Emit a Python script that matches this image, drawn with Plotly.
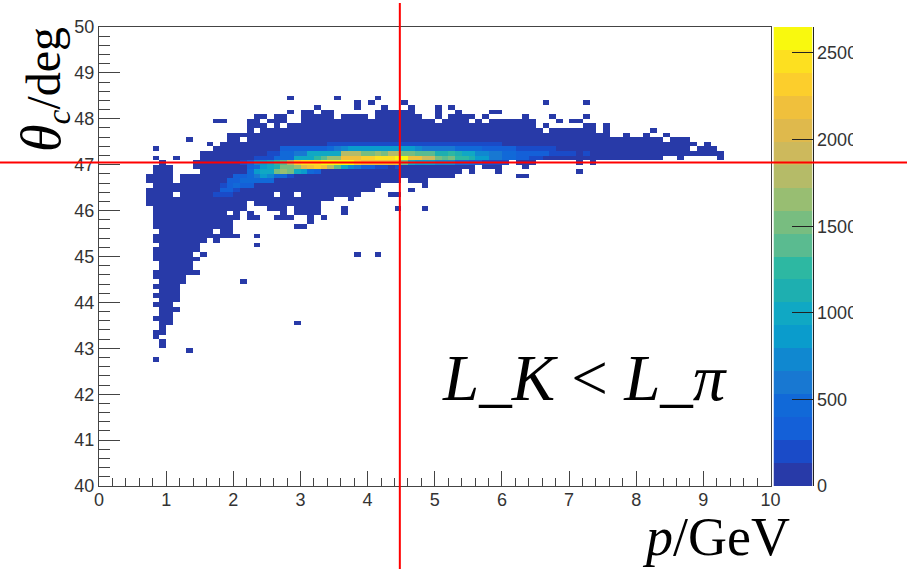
import plotly.graph_objects as go

W, H = 907, 569
P_EDGES = 100
FIRST_COL = 7
BASE_COUNT = 40
Z_MAX = 2650
BAND_COUNT = 20

# (lowest, highest) filled theta bin for every momentum bin, starting at FIRST_COL
COLUMN_LOW = [61,32,33,35,40,44,46,46,53,54,53,54,54,58,60,62,61,61,60,60,59,61,59,59,57,59,62,62,63,63,62,63,64,64,65,66,66,66,67,66,66,65,67,67,67,67,68,69,68,70,69,69,68,71,71,70,69,70,71,71,71,71,71,71,70,71,70,71,71,71,71,71,71,71,71,71,71,72,72,71,72,72,72,72,72,71]
COLUMN_HIGH = [67,69,69,69,65,67,67,69,72,72,73,74,76,76,76,79,80,80,79,80,80,78,78,81,81,80,81,81,79,80,80,80,80,80,81,81,81,81,81,82,80,79,79,82,79,80,81,80,80,79,80,79,79,79,79,79,80,79,77,78,77,77,77,77,77,78,78,76,78,75,75,76,75,75,76,75,75,74,75,75,75,74,73,74,73,72]

HOLES = [(7,65),(8,55),(8,52),(8,48),(8,47),(8,44),(8,42),(8,40),(8,38),(8,37),(8,35),(8,34),(11,63),(14,68),(14,50),(14,47),(14,48),(17,55),(19,59),(21,75),(23,77),(23,59),(23,60),(24,79),(25,78),(26,63),(27,78),(29,63),(40,80),(50,79),(55,79),(57,79),(66,77),(84,75),(88,73)]
ISOLATED = [(8,27),(8,71),(8,73),(9,30),(9,31),(9,70),(11,38),(11,71),(13,29),(13,75),(14,70),(15,50),(16,74),(17,79),(18,79),(20,54),(21,44),(22,58),(22,59),(23,58),(23,54),(23,52),(26,58),(27,58),(28,84),(28,81),(28,58),(29,56),(29,35),(30,56),(32,82),(33,58),(35,84),(36,60),(36,59),(38,82),(38,83),(38,50),(40,83),(41,84),(41,50),(42,82),(43,63),(44,63),(44,60),(45,83),(46,64),(48,60),(52,82),(58,81),(59,81),(62,67),(63,67),(66,83),(67,80),(68,79),(70,79),(71,79),(71,68),(72,80),(72,83),(82,77),(84,76)]

# Dense ridge: theta bin -> (first momentum bin, counts)
RIDGE_63 = (17, [170,210,200])
RIDGE_64 = (18, [300,340,250])
RIDGE_65 = (18, [220,380,400,330,280])
RIDGE_66 = (19, [280,360,400,420,460,500,420])
RIDGE_67 = (20, [300,330,450,650,800,750,480,420,250])
RIDGE_68 = (22, [400,800,1000,1050,1500,1600,1500,1000,900,450,300])
RIDGE_69 = (22, [300,500,900,1000,1100,1500,1550,1600,2100,2250,2300,2200,1800,1400,1050,700,650,350,300,250,200,100,200])
RIDGE_70 = (21, [200,350,700,900,1000,1300,1400,1800,2300,2400,2450,2500,2550,2650,2640,2620,2600,2300,2250,2200,2250,2200,2250,2150,1500,1000,900,850,800,750,700,700,500,400,350,300,250,200,200,150])
RIDGE_71 = (23, [250,250,250,450,450,450,1000,1000,1050,1200,1400,1700,1700,2200,2200,2200,2300,2300,2400,2400,2400,2520,2520,2200,2200,1900,1900,1500,1450,1500,1300,1300,1100,800,800,600,600,400,400,300,300,200,200])
RIDGE_72 = (25, [200,250,500,500,550,600,950,1000,1050,1000,1000,1750,1750,1750,1500,1500,1700,1500,1850,1850,1550,1550,1350,1350,1350,1150,1150,1200,1150,1000,1000,750,750,600,550,500,400,380,350,300,300,280,200,200,200,180,100,180])
RIDGE_73 = (27, [300,300,300,300,300,300,300,500,600,700,900,900,900,900,900,900,900,900,850,800,750,650,600,600,650,650,500,500,500,500,380,380,380,380,380,230,230,230,230,230,230])
RIDGE_74 = (34, [220,230,240,240,250,250,240,240,250,250,240,240,230,230,230,230,220,220,220,220,220,210,210,200,200,200])
RIDGES = {63:RIDGE_63,64:RIDGE_64,65:RIDGE_65,66:RIDGE_66,67:RIDGE_67,68:RIDGE_68,69:RIDGE_69,70:RIDGE_70,71:RIDGE_71,72:RIDGE_72,73:RIDGE_73,74:RIDGE_74}

BAND_COLORS = ["#283aa8","#1a4bc8","#1460d8","#1169d8","#1878d2","#1088d0","#0a9ccc","#10a8c4","#1eafb0","#2db8a2",
               "#5abb90","#78bd80","#98be72","#b5bb68","#cdb95c","#dfb94c","#f0c03c","#fcce2c","#fde020","#f9f90e"]
X_TICKS = [0,1,2,3,4,5,6,7,8,9,10]
Y_TICKS = [40,41,42,43,44,45,46,47,48,49,50]
BAR_TICKS = [0,500,1000,1500,2000,2500]
MARK_P = 4.48
MARK_THETA = 47.05

z = [[None]*P_EDGES for _ in range(P_EDGES)]
for k,(lo,hi) in enumerate(zip(COLUMN_LOW, COLUMN_HIGH)):
    for j in range(lo, hi+1):
        z[j][FIRST_COL+k] = BASE_COUNT
for i,j in ISOLATED:
    z[j][i] = BASE_COUNT
for i,j in HOLES:
    z[j][i] = None
for j,(start,vals) in RIDGES.items():
    for k,v in enumerate(vals):
        z[j][start+k] = v

scale = []
for n,c in enumerate(BAND_COLORS):
    scale += [[n/BAND_COUNT, c], [(n+1)/BAND_COUNT, c]]
band = Z_MAX/BAND_COUNT
bar_edges = [n*band for n in range(BAND_COUNT+1)]
bar_z = [[(n+0.5)*band] for n in range(BAND_COUNT)]

def px(x): return x/W
def py(y): return 1-y/H

fig = go.Figure()
fig.add_trace(go.Heatmap(z=z, x0=0.05, dx=0.1, y0=40.05, dy=0.1, zmin=0, zmax=Z_MAX,
                         colorscale=scale, showscale=False, hoverongaps=False, xgap=0, ygap=0))
fig.add_trace(go.Heatmap(z=bar_z, x=[0,1], y=bar_edges, zmin=0, zmax=Z_MAX, colorscale=scale,
                         showscale=False, xaxis="x2", yaxis="y2"))

tick_font = dict(family="Liberation Sans", size=18, color="#333333")
LINE = "#444444"
fig.update_layout(
    width=W, height=H, margin=dict(l=0,r=0,t=0,b=0,pad=0,autoexpand=False), autosize=False,
    paper_bgcolor="white", plot_bgcolor="white", showlegend=False,
    xaxis=dict(domain=[px(99),px(770.5)], range=[0,10], tickmode="array", tickvals=X_TICKS,
               ticks="inside", ticklen=15, tickwidth=1, tickcolor=LINE, showline=True, linecolor=LINE, linewidth=1,
               mirror=True, showgrid=False, zeroline=False, tickfont=tick_font, ticklabelstandoff=-3,
               minor=dict(ticks="inside", ticklen=8, dtick=0.2, tickcolor=LINE, tickwidth=1, showgrid=False)),
    yaxis=dict(domain=[py(486),py(27)], range=[40,50], tickmode="array", tickvals=Y_TICKS,
               ticks="inside", ticklen=21, tickwidth=1, tickcolor=LINE, showline=True, linecolor=LINE, linewidth=1,
               mirror=True, showgrid=False, zeroline=False, tickfont=tick_font, ticklabelstandoff=0,
               minor=dict(ticks="inside", ticklen=11, dtick=0.2, tickcolor=LINE, tickwidth=1, showgrid=False)),
    xaxis2=dict(domain=[px(773.5),px(812.5)], range=[0,1], visible=False, anchor="y2"),
    yaxis2=dict(domain=[py(486),py(27)], range=[0,Z_MAX], anchor="x2", side="right", tickmode="array",
                tickvals=BAR_TICKS, ticks="inside", ticklen=21, tickwidth=1, tickcolor="#222222",
                showline=True, linecolor="#222222", linewidth=1, showgrid=False, zeroline=False,
                tickfont=tick_font, ticklabelstandoff=0),
    shapes=[
        dict(type="rect", xref="paper", yref="paper", x0=px(853), x1=1, y0=0, y1=1,
             fillcolor="white", line=dict(width=0), layer="above"),
        dict(type="line", xref="paper", yref="y", x0=0, x1=1, y0=MARK_THETA, y1=MARK_THETA,
             line=dict(color="#ff0000", width=2), layer="above"),
        dict(type="line", xref="x", yref="paper", x0=MARK_P, x1=MARK_P, y0=0, y1=py(3),
             line=dict(color="#ff0000", width=2), layer="above"),
    ],
    annotations=[
        dict(text="<i><span style=\"font-size:56px\">θ</span><sub>c</sub></i>/deg", xref="paper", yref="paper", x=px(44), y=py(90), textangle=-90,
             showarrow=False, xanchor="center", yanchor="middle",
             font=dict(family="Liberation Serif", size=48, color="black")),
        dict(text="<i>p</i>/GeV", xref="paper", yref="paper", x=px(716), y=py(537),
             showarrow=False, xanchor="center", yanchor="middle",
             font=dict(family="Liberation Serif", size=54, color="black")),
        dict(text="<i>L_K</i> &lt; <i>L_π</i>", xref="paper", yref="paper", x=px(585), y=py(378),
             showarrow=False, xanchor="center", yanchor="middle",
             font=dict(family="Liberation Serif", size=65, color="black")),
    ],
)
fig.write_html("out.html", config={"displayModeBar": False}, post_script="document.body.style.margin='0';")
